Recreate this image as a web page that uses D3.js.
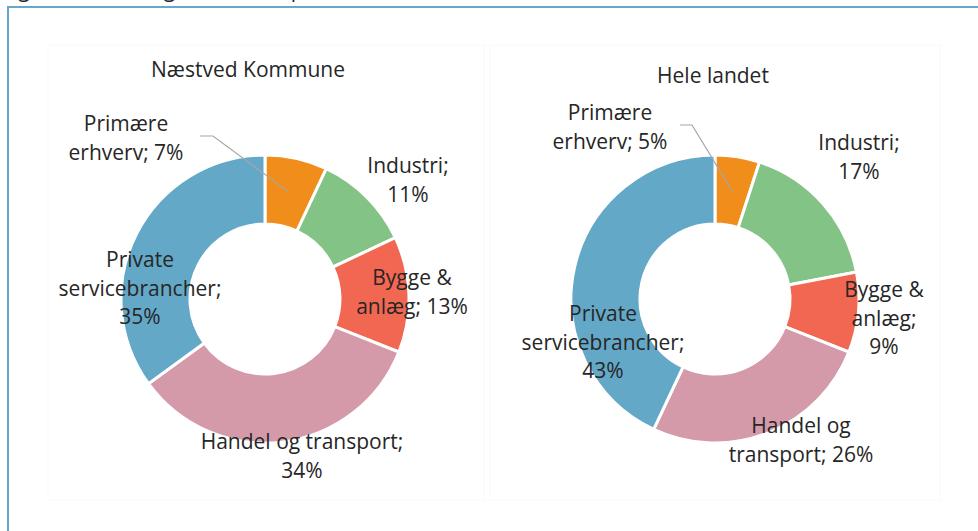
<!DOCTYPE html>
<html>
<head>
<meta charset="utf-8">
<script src="https://d3js.org/d3.v7.min.js"></script>
<style>
  body { margin: 0; background: #fff; }
  text { font-family: "Open Sans", sans-serif; fill: #262626; }
</style>
</head>
<body>
<div id="my_dataviz"></div>
<script>

// data
var categories = ["Primære erhverv", "Industri", "Bygge & anlæg", "Handel og transport", "Private servicebrancher"];
var naestvedValues = [7, 11, 13, 34, 35];
var landetValues = [5, 17, 9, 26, 43];
var colors = ["#f18d1b", "#83c385", "#f26751", "#d49aa9", "#64a8c8"];

// how each label is broken into lines (text only)
var naestvedLines = [["Primære", "erhverv; 7%"], ["Industri;", "11%"], ["Bygge &", "anlæg; 13%"],
                     ["Handel og transport;", "34%"], ["Private", "servicebrancher;", "35%"]];
var landetLines = [["Primære", "erhverv; 5%"], ["Industri;", "17%"], ["Bygge &", "anlæg;", "9%"],
                   ["Handel og", "transport; 26%"], ["Private", "servicebrancher;", "43%"]];

var width = 978, height = 531;
var outerR = 144, innerR = 75, lineH = 28.6;

var svg = d3.select("#my_dataviz")
  .append("svg")
    .attr("width", width)
    .attr("height", height);

// figure caption, cut off at the top edge as in the original screenshot
svg.append("text")
  .attr("x", 2).attr("y", -3)
  .style("font-size", "21px")
  .text("Figur 2: Beskæftigelse fordelt på brancher, 2019");

// blue frame
svg.append("rect")
  .attr("x", 8).attr("y", 7)
  .attr("width", 1000).attr("height", 600)
  .attr("fill", "none")
  .attr("stroke", "#64a8d0")
  .attr("stroke-width", 2);

// chart definitions (layout only)
var charts = [
  { title: "Næstved Kommune", values: naestvedValues, lines: naestvedLines,
    area: [48, 45, 436, 455], cx: 265, cy: 299, titleX: 248, titleY: 77,
    labelPos: [[-139, -168], [143, -126], [147, -14], [37, 150], [-125, -32]],
    leader: [[-65, -163], [-52, -163]] },
  { title: "Hele landet", values: landetValues, lines: landetLines,
    area: [490, 45, 450, 455], cx: 715, cy: 299, titleX: 713, titleY: 83,
    labelPos: [[-105, -179], [144, -149], [169, -2], [86, 134], [-112, 22]],
    leader: [[-35, -174], [-23, -174]] }
];

var pie = d3.pie().sort(null).value(function(d) { return d; });
var arc = d3.arc().innerRadius(innerR).outerRadius(outerR);

charts.forEach(function(c) {

  // faint chart area border
  svg.append("rect")
    .attr("x", c.area[0]).attr("y", c.area[1])
    .attr("width", c.area[2]).attr("height", c.area[3])
    .attr("fill", "none")
    .attr("stroke", "#f9f9f9");

  svg.append("text")
    .attr("x", c.titleX).attr("y", c.titleY)
    .attr("text-anchor", "middle")
    .style("font-size", "21px")
    .text(c.title);

  var g = svg.append("g")
    .attr("transform", "translate(" + c.cx + "," + c.cy + ")");

  var arcs = pie(c.values);

  g.selectAll("path")
    .data(arcs)
    .enter()
    .append("path")
      .attr("d", arc)
      .attr("fill", function(d, i) { return colors[i]; })
      .attr("stroke", "#fff")
      .attr("stroke-width", 3);

  // leader line for the small first slice
  var cen = arc.centroid(arcs[0]);
  g.append("polyline")
    .attr("points", [c.leader[0], c.leader[1], cen].map(function(p) { return p.join(","); }).join(" "))
    .attr("fill", "none")
    .attr("stroke", "#a6a6a6")
    .attr("stroke-width", 1.2);

  // labels
  arcs.forEach(function(d, i) {
    var t = g.append("text")
      .attr("text-anchor", "middle")
      .style("font-size", "21px");
    c.lines[i].forEach(function(line, j) {
      t.append("tspan")
        .attr("x", c.labelPos[i][0])
        .attr("y", c.labelPos[i][1] + j * lineH)
        .text(line);
    });
  });
});

</script>
</body>
</html>
